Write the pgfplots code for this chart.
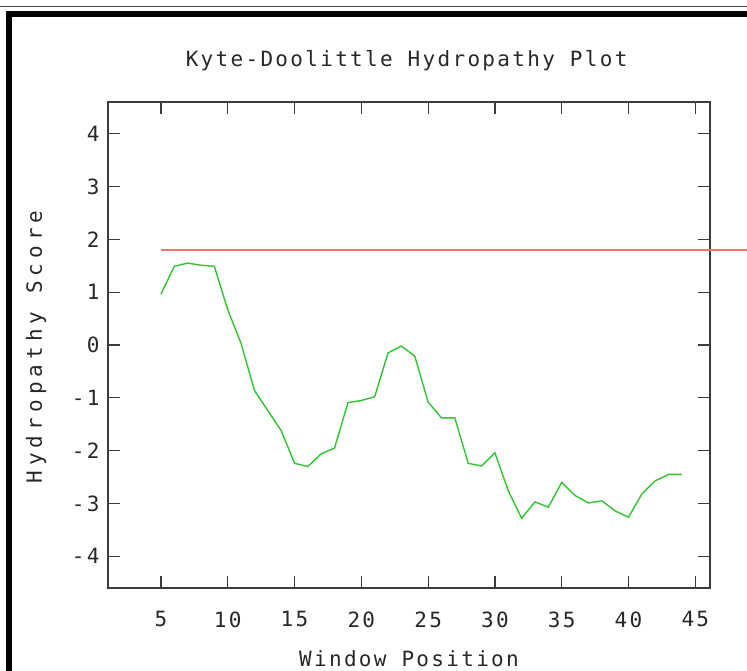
\documentclass[border=0pt]{standalone}
\usepackage{pgfplots}
\pgfplotsset{compat=1.18}
\usepackage{fontspec}
\newfontfamily\mono[LetterSpace=11]{DejaVu Sans Mono}
\newfontfamily\monowide[LetterSpace=24]{DejaVu Sans Mono}
\definecolor{kdgreen}{RGB}{50,195,50}
\definecolor{kdred}{RGB}{255,110,110}
\definecolor{axgray}{RGB}{60,60,60}
\definecolor{txtgray}{RGB}{40,40,40}
\pgfplotstableread{
x y
5 0.96
6 1.49
7 1.55
8 1.51
9 1.49
10 0.67
11 0.03
12 -0.86
13 -1.24
14 -1.62
15 -2.24
16 -2.30
17 -2.06
18 -1.95
19 -1.09
20 -1.05
21 -0.98
22 -0.15
23 -0.02
24 -0.21
25 -1.08
26 -1.38
27 -1.38
28 -2.24
29 -2.29
30 -2.04
31 -2.76
32 -3.28
33 -2.97
34 -3.07
35 -2.60
36 -2.85
37 -2.99
38 -2.95
39 -3.14
40 -3.26
41 -2.82
42 -2.57
43 -2.45
44 -2.45
}\kdtable
\begin{document}
\begin{tikzpicture}[x=1bp,y=1bp]
\path[use as bounding box] (0,0) rectangle (747,671);
\draw[black!70, line width=1.5bp] (0,664.5) -- (747,664.5);
\fill[black] (6,654) rectangle (747,660);
\fill[black] (6,0) rectangle (12,660);
\begin{axis}[
  at={(108bp,83bp)}, anchor=south west,
  width=602bp, height=486bp, scale only axis,
  xmin=1.04, xmax=46.1, ymin=-4.6, ymax=4.6,
  clip=false,
  axis line style={axgray, line width=1.2bp},
  every tick/.style={axgray, line width=1.2bp},
  tick align=inside,
  major tick length=12bp,
  xtick={5,10,15,20,25,30,35,40,45},
  xticklabels={5,10,15,20,25,30,35,40,45},
  ytick={-4,-3,-2,-1,0,1,2,3,4},
  yticklabels={-4,-3,-2,-1,0,1,2,3,4},
  tick label style={font=\mono\fontsize{21bp}{24bp}\selectfont, text=txtgray},
  xticklabel style={yshift=-20bp},
  yticklabel style={xshift=-5bp},
  title={Kyte-Doolittle Hydropathy Plot},
  title style={font=\mono\fontsize{21bp}{24bp}\selectfont, text=txtgray, at={(rel axis cs:0.496,1.0)}, anchor=base, yshift=30bp},
  xlabel={Window Position},
  xlabel style={font=\mono\fontsize{21bp}{24bp}\selectfont, text=txtgray, at={(rel axis cs:0.5,0)}, anchor=base, yshift=-79bp},
  ylabel={Hydropathy Score},
  ylabel style={font=\monowide\fontsize{21bp}{24bp}\selectfont, text=txtgray, at={(rel axis cs:-0.1196,0.496)}, anchor=center, rotate=0},
]
\addplot[kdred, line width=1.5bp] coordinates {(5,1.8) (48.9,1.8)};
\addplot[kdgreen, line width=1.4bp] table[x=x,y=y] {\kdtable};
\end{axis}
\end{tikzpicture}
\end{document}
